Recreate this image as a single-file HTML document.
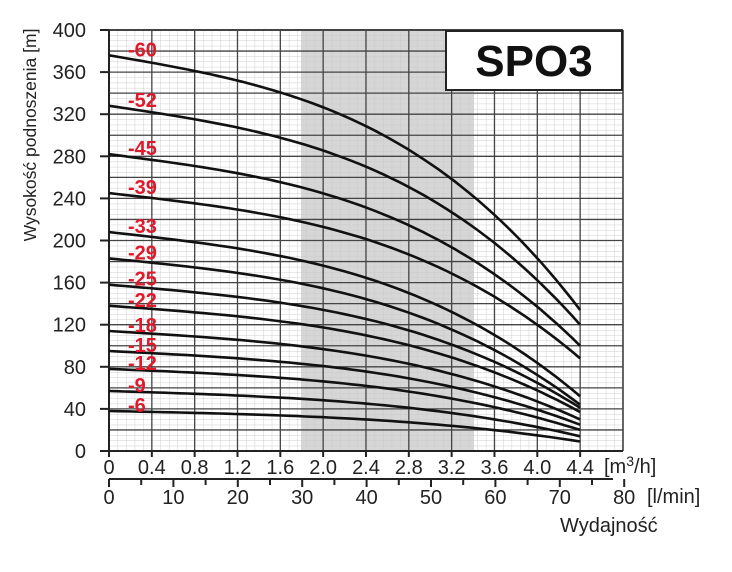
<!DOCTYPE html>
<html><head><meta charset="utf-8"><style>
html,body{margin:0;padding:0;background:#fff;}
svg{display:block;font-family:"Liberation Sans",sans-serif;}
</style></head><body>
<svg id="s" width="732" height="572" viewBox="0 0 732 572" xmlns="http://www.w3.org/2000/svg">
<defs>
<pattern id="minor" x="109" y="30" width="8.566" height="5.2625" patternUnits="userSpaceOnUse">
<path d="M0 0V5.2625M0 0H8.566" stroke="#cfcfcf" stroke-width="1" fill="none"/>
</pattern>
</defs>
<rect x="109" y="30" width="514" height="421" fill="url(#minor)"/>
<rect x="301" y="30" width="173" height="421" fill="#c8c8c8" opacity="0.75"/>
<g id="g"></g>
<rect x="446" y="31" width="176" height="59" fill="#fff" stroke="#222" stroke-width="2"/>
<text x="534" y="76" text-anchor="middle" font-size="44" font-weight="bold" fill="#111">SPO3</text>
<text transform="translate(36,135) rotate(-90)" text-anchor="middle" font-size="17.5" fill="#222">Wysokość podnoszenia [m]</text>
<text x="560" y="532" font-size="20" fill="#222">Wydajność</text>
<text x="604" y="473" font-size="20" fill="#222">[m<tspan font-size="14" dy="-7">3</tspan><tspan dy="7">/h]</tspan></text>
<text x="647" y="503" font-size="20" fill="#222">[l/min]</text>
</svg>
<script>
var g=document.getElementById('g'),h='';
var X0=109,Y0=451,PY=1.0525;
for(var i=0;i<=12;i++){var x=X0+i*42.83;h+='<line x1="'+x+'" y1="30" x2="'+x+'" y2="451" stroke="#444" stroke-width="1.3"/>';}
for(var v=0;v<=400;v+=20){var y=Y0-v*PY;h+='<line x1="109" y1="'+y+'" x2="623" y2="'+y+'" stroke="#444" stroke-width="'+(v==0||v==400?2:1.3)+'"/>';}
h+='<line x1="109" y1="30" x2="109" y2="451" stroke="#222" stroke-width="2"/>';
h+='<line x1="623" y1="30" x2="623" y2="451" stroke="#444" stroke-width="1.5"/>';
for(var v=0;v<=400;v+=40){var y=Y0-v*PY;h+='<line x1="100" y1="'+y+'" x2="109" y2="'+y+'" stroke="#222" stroke-width="2"/>';
h+='<text x="86" y="'+(y+7)+'" text-anchor="end" font-size="20" fill="#222">'+v+'</text>';}
var lab=['0','0.4','0.8','1.2','1.6','2.0','2.4','2.8','3.2','3.6','4.0','4.4'];
h+='<line x1="100" y1="451" x2="623" y2="451" stroke="#222" stroke-width="2"/>';
for(var i=0;i<12;i++){var x=X0+i*42.83;h+='<line x1="'+x+'" y1="451" x2="'+x+'" y2="457" stroke="#222" stroke-width="2"/>';
h+='<text x="'+x+'" y="474" text-anchor="middle" font-size="20" fill="#222">'+lab[i]+'</text>';}
h+='<line x1="109" y1="479" x2="613" y2="479" stroke="#222" stroke-width="2"/>';
for(var k=0;k<=16;k++){var x=X0+k*32.2;h+='<line x1="'+x+'" y1="479" x2="'+x+'" y2="'+(k%2?485:487)+'" stroke="#222" stroke-width="2"/>';
if(k%2==0)h+='<text x="'+x+'" y="504" text-anchor="middle" font-size="20" fill="#222">'+(k*5)+'</text>';}
var C=[['-60',376,134],['-52',328,120],['-45',282,100],['-39',245,88],['-33',208,52],['-29',183,44],['-25',158,41],['-22',138,37],['-18',114,30],['-15',95,25],['-12',78,20],['-9',57,14],['-6',38,9]];
var XE=X0+11*42.83;
C.forEach(function(c){var d='',H0=c[1],D=c[1]-c[2];
for(var j=0;j<=60;j++){var t=j/60;var f=0.32*t+0.68*Math.pow(t,3.1);var H=H0-D*f;
d+=(j?'L':'M')+(X0+t*(XE-X0)).toFixed(1)+' '+(Y0-H*PY).toFixed(1);}
h+='<path d="'+d+'" fill="none" stroke="#111" stroke-width="2.6"/>';});
C.forEach(function(c){var y=Y0-c[1]*PY;
h+='<text x="128" y="'+(y+1)+'" font-size="20" font-weight="bold" fill="#e0192b">'+c[0]+'</text>';});
g.innerHTML=h;
</script>
</body></html>
